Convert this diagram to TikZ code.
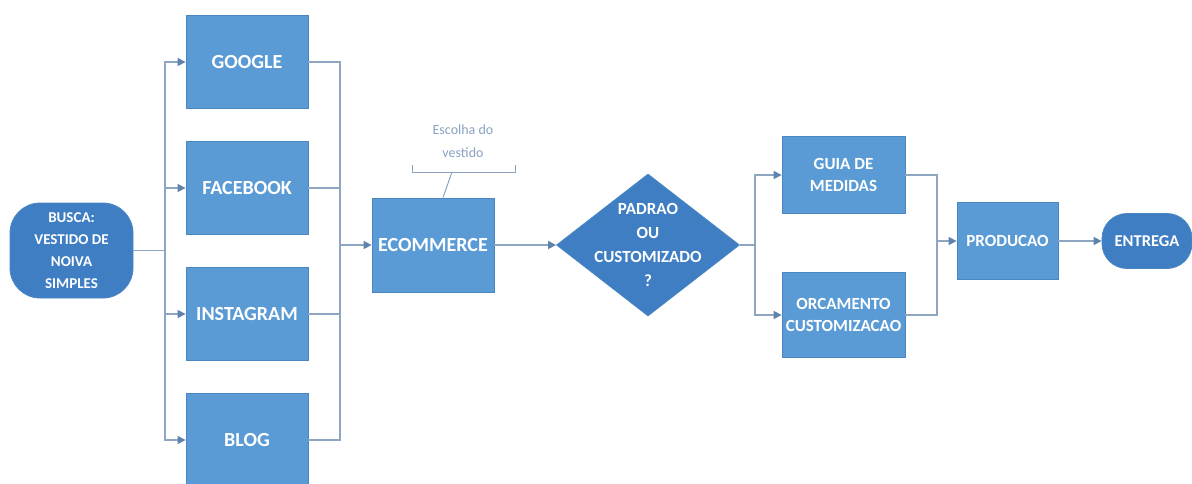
\documentclass[tikz,border=0pt]{standalone}
\usepackage{fontspec}
\setmainfont{Carlito}
\usetikzlibrary{shapes.geometric,arrows.meta}

\definecolor{boxfill}{HTML}{5B9BD5}
\definecolor{boxline}{HTML}{4A87C2}
\definecolor{termfill}{HTML}{3F7EC3}
\definecolor{wire}{HTML}{8EA6C2}
\definecolor{tipcol}{HTML}{5F83AD}
\definecolor{notecol}{HTML}{8AA3C2}

\tikzset{
  box/.style={draw=boxline, line width=0.8pt, fill=boxfill, text=white,
    font=\bfseries\fontsize{20}{24}\selectfont, inner sep=0pt, align=center,
    minimum width=122pt, minimum height=93pt},
  smallbox/.style={box, font=\bfseries\fontsize{17}{22}\selectfont},
  term/.style={draw=boxline, line width=0.8pt, fill=termfill, text=white,
    inner sep=0pt, align=center},
  decision/.style={term, shape=diamond, minimum width=183pt, minimum height=142pt},
  dectext/.style={text=white, align=center, font=\bfseries\fontsize{17}{24}\selectfont},
  wire/.style={draw=wire, line width=1.5pt},
  arr/.style={wire, -{Triangle[length=8pt,width=8pt,color=tipcol]}},
  notetext/.style={text=notecol, align=center, font=\fontsize{14}{23}\selectfont},
  notebr/.style={draw=notecol, line width=1pt}
}

\begin{document}
\begin{tikzpicture}[x=1pt, y=-1pt]
  \clip (0,0) rectangle (1192,483);
  \fill[white] (0,0) rectangle (1192,483);

  % start terminator
  \node[term, minimum width=123pt, minimum height=95pt, rounded corners=30pt,
        font=\bfseries\fontsize{15}{22}\selectfont] (busca) at (71.5,250.5)
        {BUSCA:\\VESTIDO DE\\NOIVA\\SIMPLES};

  % channels
  \node[box] (google) at (247,62)  {GOOGLE};
  \node[box] (face)   at (247,188) {FACEBOOK};
  \node[box] (insta)  at (247,314) {INSTAGRAM};
  \node[box] (blog)   at (247,440) {BLOG};

  % store
  \node[box, minimum height=94pt] (ecom) at (433,245) {ECOMMERCE};

  % decision
  \node[decision, label={[dectext]center:{PADRAO\\OU\\CUSTOMIZADO\\?}}] (dec) at (648,245) {};

  % branches
  \node[smallbox, minimum width=123pt, minimum height=77pt] (guia) at (843.5,175) {GUIA DE\\MEDIDAS};
  \node[smallbox, minimum width=123pt, minimum height=85pt] (orc) at (843.5,315) {ORCAMENTO\\CUSTOMIZACAO};

  \node[smallbox, minimum width=101pt, minimum height=77pt] (prod) at (1007.5,241) {PRODUCAO};
  \node[term, minimum width=90pt, minimum height=55pt, rounded corners=25pt,
        font=\bfseries\fontsize{16.5}{20}\selectfont] (entrega) at (1147,241) {ENTREGA};

  % bus junctions
  \coordinate (bl) at (165,250.5);
  \coordinate (br) at (340,245);
  \coordinate (dr) at (755,245);
  \coordinate (pr) at (937,241);

  % search fans out to channels
  \draw[wire] (busca) -- (bl);
  \draw[arr] (bl) |- (google);
  \draw[arr] (bl) |- (face);
  \draw[arr] (bl) |- (insta);
  \draw[arr] (bl) |- (blog);

  % channels merge into the store
  \draw[wire] (google) -| (br);
  \draw[wire] (face) -| (br);
  \draw[wire] (insta) -| (br);
  \draw[wire] (blog) -| (br);
  \draw[arr] (br) -- (ecom);

  \draw[arr] (ecom) -- (dec);

  % decision branches
  \draw[wire] (dec.east) -- (dr);
  \draw[arr] (dr) |- (guia);
  \draw[arr] (dr) |- (orc);

  \draw[wire] (guia) -| (pr);
  \draw[wire] (orc) -| (pr);
  \draw[arr] (pr) -- (prod);
  \draw[arr] (prod) -- (entrega);

  % callout on the store
  \node[notetext] (esc) at (463,141) {Escolha do\\vestido};
  \coordinate (brLt) at (412,165);
  \coordinate (brLb) at (412,172);
  \coordinate (brRb) at (515,172);
  \coordinate (brRt) at (515,165);
  \coordinate (brM) at (452,172);
  \draw[notebr] (brLt) -- (brLb) -- (brRb) -- (brRt);
  \draw[notebr] (brM) -- ([xshift=10pt]ecom.north);
\end{tikzpicture}
\end{document}
